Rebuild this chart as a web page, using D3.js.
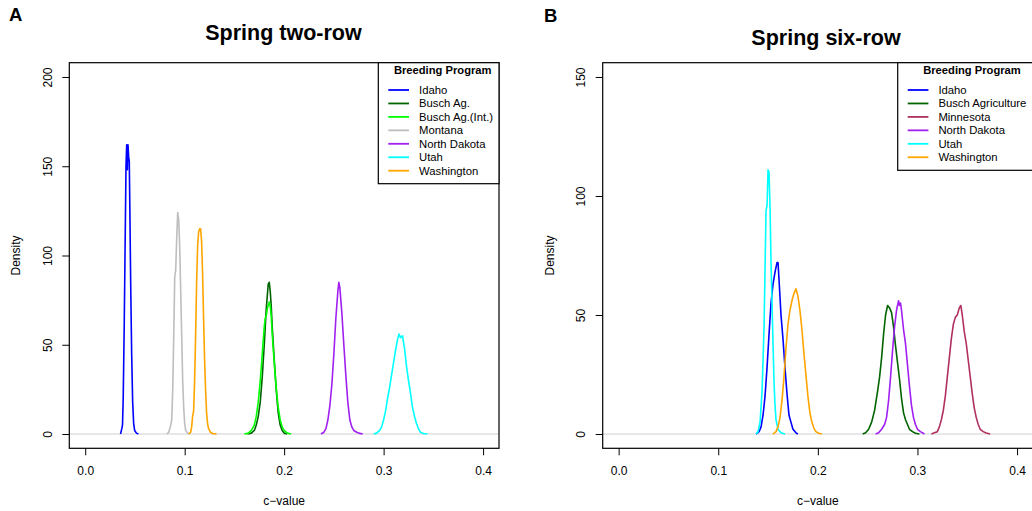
<!DOCTYPE html>
<html>
<head>
<meta charset="utf-8" />
<title>c-value densities by breeding program</title>
<style>
html, body {
  margin: 0;
  padding: 0;
  background-color: #fff;
}
svg {
  display: block;
  font-family: "Liberation Sans", Arial, Helvetica, sans-serif;
}
</style>
</head>
<body>
<script src="https://d3js.org/d3.v7.min.js"></script>
<script>

// ---------------------------------------------------------
// Data. Each curve is [c-value, density]

const xTicks = [0, 0.1, 0.2, 0.3, 0.4]

// Panel A - spring two-row
const twoRowTitle = 'Spring two-row'
const twoRowYTicks = [0, 50, 100, 150, 200]
const twoRowNames = ['Idaho', 'Busch Ag.', 'Busch Ag.(Int.)', 'Montana', 'North Dakota', 'Utah', 'Washington']
const twoRowColors = ['#0000ff', '#006400', '#00ff00', '#bebebe', '#a020f0', '#00ffff', '#ffa500']

const twoIdaho = [[0.0355,0],[0.0368,3],[0.0375,5],[0.0382,20],[0.0392,60],[0.0402,110],[0.041,150],[0.0417,162],[0.0424,148],[0.043,162],[0.0437,155],[0.0443,153],[0.045,120],[0.0457,85],[0.0467,45],[0.0477,18],[0.0487,6],[0.0497,2],[0.0515,0.5],[0.0535,0]]
const twoBuschAg = [[0.163,0],[0.167,0.5],[0.170,2],[0.172,5],[0.174,10],[0.176,18],[0.178,32],[0.180,50],[0.182,70],[0.184,84],[0.185,85],[0.186,80],[0.187,72],[0.188,60],[0.190,42],[0.192,25],[0.194,12],[0.196,5],[0.198,2],[0.200,0.5],[0.203,0]]
const twoBuschInt = [[0.160,0],[0.164,0.5],[0.167,2],[0.170,5],[0.172,10],[0.174,18],[0.176,30],[0.178,45],[0.180,60],[0.181,65],[0.182,66],[0.183,70],[0.185,74],[0.186,72],[0.187,66],[0.188,56],[0.190,40],[0.192,26],[0.194,15],[0.196,8],[0.198,4],[0.200,2],[0.203,0.5],[0.207,0]]
const twoMontana = [[0.082,0],[0.084,1],[0.086,5],[0.087,8],[0.088,25],[0.089,55],[0.090,88],[0.091,92],[0.092,110],[0.093,124],[0.094,120],[0.095,105],[0.096,80],[0.097,55],[0.098,30],[0.099,15],[0.100,6],[0.101,2],[0.103,0.5],[0.105,0]]
const twoNorthDakota = [[0.237,0],[0.240,1],[0.242,3],[0.244,8],[0.246,16],[0.248,28],[0.250,45],[0.252,65],[0.254,80],[0.255,85],[0.256,82],[0.258,68],[0.260,50],[0.262,33],[0.264,18],[0.266,8],[0.268,4],[0.270,2],[0.273,1],[0.275,0.5],[0.279,0]]
const twoUtah = [[0.290,0],[0.293,0.5],[0.296,2],[0.298,4],[0.300,8],[0.302,13],[0.304,20],[0.306,26],[0.308,33],[0.310,40],[0.312,47],[0.314,53],[0.3155,56],[0.317,54],[0.319,55],[0.321,48],[0.323,38],[0.325,30],[0.327,23],[0.329,15],[0.331,10],[0.333,6],[0.335,3],[0.337,1],[0.340,0.3],[0.344,0]]
const twoWashington = [[0.104,0],[0.106,1],[0.107,4],[0.108,10],[0.109,13],[0.110,30],[0.111,55],[0.112,85],[0.113,105],[0.114,113],[0.115,115],[0.116,115],[0.117,108],[0.118,90],[0.119,65],[0.120,42],[0.121,25],[0.122,12],[0.123,6],[0.124,3],[0.126,1],[0.128,0.3],[0.132,0]]

// Panel B - spring six-row
const sixRowTitle = 'Spring six-row'
const sixRowYTicks = [0, 50, 100, 150]
const sixRowNames = ['Idaho', 'Busch Agriculture', 'Minnesota', 'North Dakota', 'Utah', 'Washington']
const sixRowColors = ['#0000ff', '#006400', '#b03060', '#a020f0', '#00ffff', '#ffa500']

const sixIdaho = [[0.138,0],[0.141,1],[0.143,3],[0.145,8],[0.147,16],[0.149,28],[0.151,42],[0.153,55],[0.155,63],[0.157,68],[0.159,72],[0.160,72],[0.161,65],[0.163,50],[0.165,40],[0.167,28],[0.169,17],[0.171,8],[0.173,5],[0.175,2],[0.178,0.5],[0.180,0]]
const sixBusch = [[0.245,0],[0.248,0.5],[0.251,2],[0.254,5],[0.257,10],[0.260,18],[0.262,24],[0.264,32],[0.266,42],[0.268,50],[0.270,54],[0.272,53],[0.274,51],[0.276,45],[0.278,37],[0.280,30],[0.282,23],[0.284,15],[0.286,9],[0.288,6],[0.290,4],[0.292,2],[0.295,1],[0.298,0.3],[0.302,0]]
const sixMinnesota = [[0.314,0],[0.317,0.5],[0.320,1],[0.322,3],[0.324,6],[0.326,10],[0.328,16],[0.330,24],[0.332,32],[0.334,40],[0.336,46],[0.338,49],[0.340,50],[0.342,53],[0.3435,54],[0.345,50],[0.347,43],[0.349,38],[0.351,31],[0.353,24],[0.355,17],[0.357,11],[0.359,7],[0.361,4],[0.363,2],[0.366,1],[0.369,0.4],[0.373,0]]
const sixNorthDakota = [[0.258,0],[0.261,0.5],[0.264,2],[0.267,4],[0.269,7],[0.271,14],[0.273,24],[0.275,35],[0.277,45],[0.279,52],[0.281,56],[0.282,54],[0.283,55],[0.284,52],[0.286,44],[0.288,38],[0.290,29],[0.292,20],[0.294,12],[0.296,7],[0.298,4],[0.300,2],[0.303,1],[0.307,0]]
const sixUtah = [[0.138,0],[0.140,1],[0.142,5],[0.144,18],[0.146,45],[0.147,70],[0.148,94],[0.149,96],[0.150,111],[0.151,110],[0.152,95],[0.153,72],[0.154,55],[0.155,38],[0.156,22],[0.157,12],[0.158,6],[0.160,2],[0.163,0.5],[0.167,0]]
const sixWashington = [[0.155,0],[0.158,1],[0.160,3],[0.162,7],[0.164,14],[0.166,24],[0.168,36],[0.170,46],[0.172,52],[0.174,56],[0.176,59],[0.178,61],[0.180,58],[0.182,52],[0.184,44],[0.186,34],[0.188,25],[0.190,16],[0.192,9],[0.194,5],[0.196,2.5],[0.198,1],[0.201,0.3],[0.204,0]]

// ---------------------------------------------------------
// Page

const W = 1032
const H = 511

const svg = d3.select('body').append('svg')
  .attr('width', W)
  .attr('height', H)

svg.append('rect').attr('width', W).attr('height', H).attr('fill', '#fff')

// R pads the axis range by 4% on each side
function padded(lo, hi) {
  const d = (hi - lo) * 0.04
  return [lo - d, hi + d]
}

function drawPanel(p) {
  const g = svg.append('g')

  const x = d3.scaleLinear().domain(padded(0, 0.4)).range([p.left, p.right])
  const y = d3.scaleLinear().domain(padded(0, p.yMax)).range([p.bottom, p.top])

  // zero line
  g.append('line')
    .attr('x1', p.left).attr('x2', p.right)
    .attr('y1', y(0)).attr('y2', y(0))
    .attr('stroke', '#cfcfcf')
    .attr('stroke-width', 1.2)

  const line = d3.line()
    .x(d => x(d[0]))
    .y(d => y(d[1]))

  g.selectAll('path.curve')
    .data(p.curves)
    .enter().append('path')
    .attr('class', 'curve')
    .attr('d', d => line(d))
    .attr('fill', 'none')
    .attr('stroke', (d, i) => p.colors[i])
    .attr('stroke-width', 1.6)
    .attr('stroke-linejoin', 'round')

  // x axis
  const xAxis = g.append('g')
    .attr('transform', `translate(0,${p.bottom})`)
    .call(d3.axisBottom(x).tickValues(xTicks).tickSize(7).tickFormat(d3.format('.1f')))
  xAxis.select('.domain').remove()
  xAxis.selectAll('line').attr('stroke', '#000')
  xAxis.selectAll('text')
    .attr('y', 26.7).attr('dy', null)
    .attr('font-size', 12).attr('font-family', null).attr('fill', '#000')

  // y axis, labels parallel to the axis
  const yAxis = g.append('g')
    .attr('transform', `translate(${p.left},0)`)
    .call(d3.axisLeft(y).tickValues(p.yTicks).tickSize(7))
  yAxis.select('.domain').remove()
  yAxis.selectAll('line').attr('stroke', '#000')
  yAxis.selectAll('text')
    .attr('x', null).attr('dy', null)
    .attr('transform', 'translate(-17.3,0) rotate(-90)')
    .attr('text-anchor', 'middle')
    .attr('font-size', 12).attr('font-family', null).attr('fill', '#000')

  // frame
  g.append('rect')
    .attr('x', p.left).attr('y', p.top)
    .attr('width', p.right - p.left).attr('height', p.bottom - p.top)
    .attr('fill', 'none').attr('stroke', '#000').attr('stroke-width', 1.2)

  // labels
  g.append('text')
    .attr('x', p.titleX).attr('y', p.titleY)
    .attr('text-anchor', 'middle')
    .attr('font-size', 21.5).attr('font-weight', 'bold')
    .text(p.title)

  g.append('text')
    .attr('x', p.tagX).attr('y', p.tagY)
    .attr('font-size', 18.5).attr('font-weight', 'bold')
    .text(p.tag)

  g.append('text')
    .attr('x', (p.left + p.right) / 2).attr('y', 505)
    .attr('text-anchor', 'middle')
    .attr('font-size', 12)
    .text('c\u2212value')

  g.append('text')
    .attr('transform', `translate(${p.left - 49.1},${(p.top + p.bottom) / 2}) rotate(-90)`)
    .attr('text-anchor', 'middle')
    .attr('font-size', 12)
    .text('Density')

  // legend, top right of the plot
  const lg = g.append('g')
  lg.append('rect')
    .attr('x', p.legLeft).attr('y', p.top)
    .attr('width', p.right - p.legLeft).attr('height', p.legBottom - p.top)
    .attr('fill', '#fff').attr('stroke', '#000').attr('stroke-width', 1.2)

  lg.append('text')
    .attr('x', p.legLeft + p.legTitleDx).attr('y', 74.3)
    .attr('text-anchor', 'middle')
    .attr('font-size', 11.2).attr('font-weight', 'bold')
    .text('Breeding Program')

  const rows = lg.selectAll('g.row')
    .data(p.names)
    .enter().append('g')
    .attr('class', 'row')
    .attr('transform', (d, i) => `translate(${p.legLeft},${90 + i * 13.45})`)

  rows.append('line')
    .attr('x1', 10).attr('x2', 30.7)
    .attr('stroke', (d, i) => p.colors[i])
    .attr('stroke-width', 1.8)

  rows.append('text')
    .attr('x', 40.7).attr('y', 4)
    .attr('font-size', 11.3)
    .text(d => d)
}

drawPanel({
  tag: 'A', tagX: 9, tagY: 21,
  title: twoRowTitle, titleX: 283.5, titleY: 40,
  left: 69.3, right: 499, top: 62.7, bottom: 448.3,
  yMax: 200, yTicks: twoRowYTicks,
  names: twoRowNames, colors: twoRowColors,
  curves: [twoIdaho, twoBuschAg, twoBuschInt, twoMontana, twoNorthDakota, twoUtah, twoWashington],
  legLeft: 378.3, legBottom: 183.7, legTitleDx: 64.4
})

drawPanel({
  tag: 'B', tagX: 544, tagY: 21.7,
  title: sixRowTitle, titleX: 826, titleY: 45.3,
  left: 602.7, right: 1033, top: 62.7, bottom: 448.3,
  yMax: 150, yTicks: sixRowYTicks,
  names: sixRowNames, colors: sixRowColors,
  curves: [sixIdaho, sixBusch, sixMinnesota, sixNorthDakota, sixUtah, sixWashington],
  legLeft: 897.7, legBottom: 170.3, legTitleDx: 74.3
})

</script>
</body>
</html>
